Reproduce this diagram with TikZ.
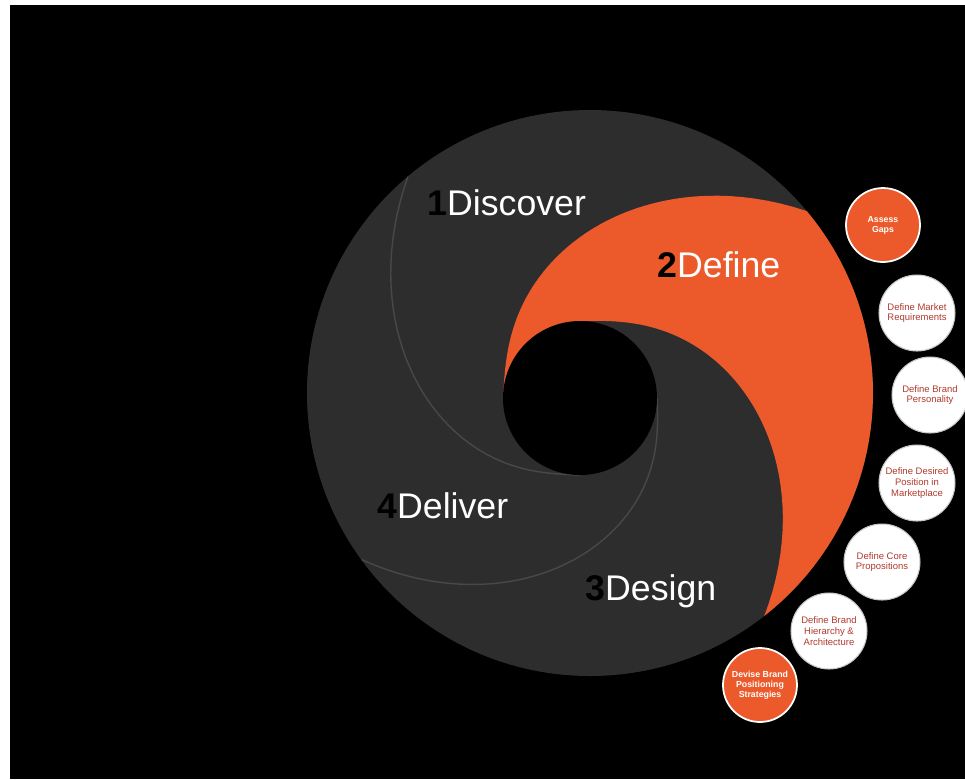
\documentclass[tikz,border=0pt]{standalone}
\usepackage{fontspec}
\setmainfont{Liberation Sans}
\definecolor{discgray}{HTML}{2D2D2D}
\definecolor{sepgray}{HTML}{484848}
\definecolor{swirl}{HTML}{EC5A2B}
\definecolor{txtred}{HTML}{B03A2E}
\begin{document}
\begin{tikzpicture}[x=0.02cm,y=-0.02cm,
  biglabel/.style={anchor=base west,inner sep=0,text=white,font=\fontsize{20.3}{24}\selectfont},
  wc/.style={circle,fill=white,draw=gray!45,line width=0.6pt,minimum size=1.52cm,inner sep=0,align=center,text=txtred,font=\fontsize{5.4}{6.2}\selectfont},
  oc/.style={circle,fill=swirl,draw=white,line width=1pt,minimum size=1.48cm,inner sep=0,align=center,text=white,font=\bfseries\fontsize{5}{5.8}\selectfont},
  sep/.style={draw=sepgray,line width=0.8pt}]
\useasboundingbox (0,0) rectangle (965,779);
\clip (0,0) rectangle (965,779);
\fill[white] (0,0) rectangle (965,779);
\fill[black] (10,5) rectangle (965,779);
% disc
\fill[discgray] (590,393) circle (283);
% orange blade
\fill[swirl] plot[domain=0:1,samples=60,variable=\t] ({580+10*\t+(77+206*\t*\t)*cos(180-140*\t)},{398-5*\t-(77+206*\t*\t)*sin(180-140*\t)})
 --plot[domain=40:-52,samples=40,variable=\a] ({590+283*cos(\a)},{393-283*sin(\a)})
 --plot[domain=1:0,samples=60,variable=\t] ({580+10*\t+(77+206*\t*\t)*cos(90-142*\t)},{398-5*\t-(77+206*\t*\t)*sin(90-142*\t)})
 -- cycle;
% separators
\draw[sep] plot[domain=0:1,samples=60,variable=\t] ({580+10*\t+(77+206*\t*\t)*cos(-90-140*\t)},{398-5*\t-(77+206*\t*\t)*sin(-90-140*\t)});
\draw[sep] plot[domain=0:1,samples=60,variable=\t] ({580+10*\t+(77+206*\t*\t)*cos(0-144*\t)},{398-5*\t-(77+206*\t*\t)*sin(0-144*\t)});
% hole
\fill[black] (580,398) circle (77);
% labels
\node[biglabel] (l1) at (427,215) {\textcolor{black}{\textbf{1}}Discover};
\node[biglabel] (l2) at (657,277) {\textcolor{black}{\textbf{2}}Define};
\node[biglabel] (l4) at (377,518) {\textcolor{black}{\textbf{4}}Deliver};
\node[biglabel] (l3) at (585,600) {\textcolor{black}{\textbf{3}}Design};
% small circles
\node[oc] (c1) at (883,225) {Assess\\Gaps};
\node[wc] (c2) at (917,313) {Define Market\\Requirements};
\node[wc] (c3) at (930,395) {Define Brand\\Personality};
\node[wc] (c4) at (917,483) {Define Desired\\Position in\\Marketplace};
\node[wc] (c5) at (882,562) {Define Core\\Propositions};
\node[wc] (c6) at (829,631) {Define Brand\\Hierarchy \&\\Architecture};
\node[oc] (c7) at (760,685) {Devise Brand\\Positioning\\Strategies};
\end{tikzpicture}
\end{document}
